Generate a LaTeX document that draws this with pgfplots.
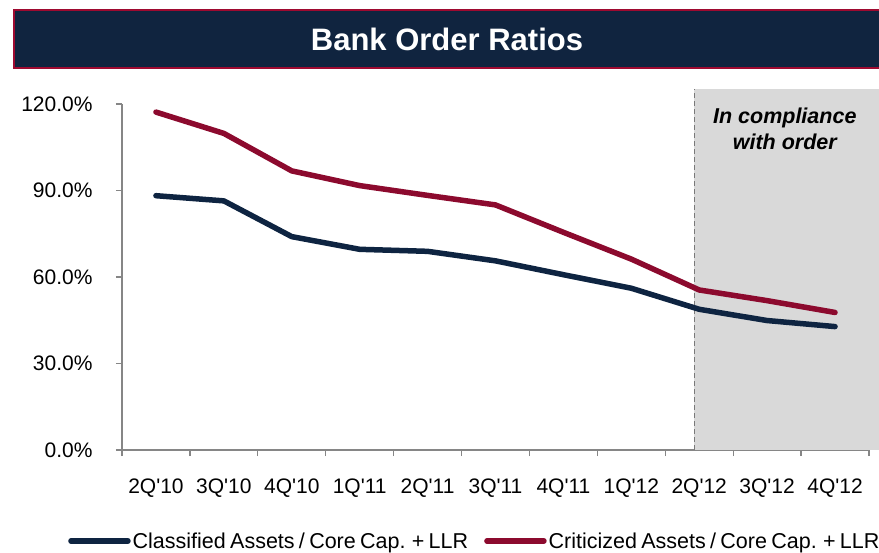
\documentclass[border=0pt]{standalone}
\usepackage{fontspec}
\setmainfont{Liberation Sans}
\newfontfamily\tickfont{Liberation Sans}
\usepackage{pgfplots}
\pgfplotsset{compat=1.18}

\definecolor{navyline}{HTML}{0E2441}
\definecolor{redline}{HTML}{8C0A2E}
\definecolor{banner}{HTML}{10243F}
\definecolor{bannerborder}{HTML}{9E0A30}
\definecolor{axisgray}{HTML}{868686}
\definecolor{shadegray}{HTML}{D9D9D9}

\newcommand\legfont{\fontsize{21.5bp}{25bp}\selectfont\spaceskip=0.2em plus 0.1em\relax}

\begin{document}
\begin{tikzpicture}
\path[use as bounding box] (0,0) rectangle (879bp,553bp);

% title banner
\fill[banner, draw=bannerborder, line width=2bp] (14bp,485bp) rectangle (884bp,543bp);
\node[text=white, font=\fontsize{31bp}{36bp}\selectfont\bfseries] at (447bp,514bp) {Bank Order Ratios};

\begin{axis}[
    at={(122bp,103bp)}, anchor=south west,
    scale only axis,
    width=747bp, height=346bp,
    clip=false,
    xmin=-0.5, xmax=10.5,
    ymin=0, ymax=120,
    axis x line*=bottom, axis y line*=left,
    axis line style={axisgray, line width=1.2bp, -},
    xtick={0,...,10},
    xticklabels={2Q'10,3Q'10,4Q'10,1Q'11,2Q'11,3Q'11,4Q'11,1Q'12,2Q'12,3Q'12,4Q'12},
    minor xtick={-0.5,0.5,...,10.5},
    major x tick style={draw=none},
    ytick={0,30,60,90,120},
    tick align=outside,
    major tick length=6bp, minor tick length=6bp,
    tick style={axisgray, line width=1.2bp},
    /pgf/number format/assume math mode=true,
    yticklabel={\pgfmathprintnumber[fixed,fixed zerofill,precision=1]{\tick}\%},
    ticklabel style={font=\tickfont\fontsize{21bp}{25bp}\selectfont, text=black},
    xticklabel style={yshift=-19bp},
    yticklabel style={xshift=-20bp},
    legend style={
        at={(axis description cs:-0.072,-0.263)}, anchor=west,
        draw=none, fill=none, inner sep=0pt, outer sep=0pt,
        legend columns=2,
        font=\legfont,
        /tikz/every even column/.append style={column sep=14bp},
    },
    legend image code/.code={\draw[#1] (0bp,0bp) -- (57bp,0bp);},
    every axis plot/.append style={line width=5.5bp, line cap=round, line join=round},
]

% shaded "in compliance" region
\fill[shadegray] (axis cs:7.93,0) rectangle (axis cs:10.7,125.2);
\draw[axisgray!90!black, dash pattern=on 5bp off 3bp, line width=1.3bp] (axis cs:7.93,0) -- (axis cs:7.93,125.2);
\node[align=center, font=\fontsize{21.5bp}{26bp}\selectfont\bfseries\itshape]
    at (axis cs:9.26,111.3) {In compliance\\with order};

\addplot[navyline] coordinates {
(0,88.2) (1,86.4) (2,74.0) (3,69.6) (4,68.9) (5,65.6)
(6,60.8) (7,56.1) (8,48.8) (9,44.9) (10,42.8)
};
\addlegendentry{Classified Assets / Core Cap. + LLR}

\addplot[redline] coordinates {
(0,117.2) (1,109.8) (2,96.8) (3,91.7) (4,88.3) (5,85.0)
(6,75.5) (7,66.2) (8,55.5) (9,51.8) (10,47.7)
};
\addlegendentry{Criticized Assets / Core Cap. + LLR}

\end{axis}
\end{tikzpicture}
\end{document}
